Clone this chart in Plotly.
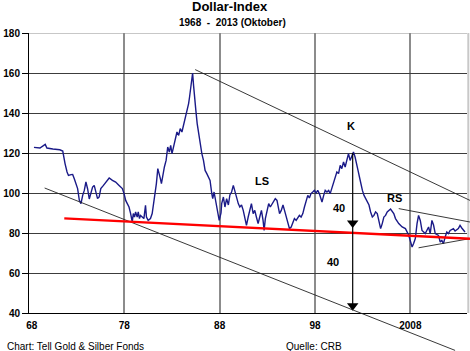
import plotly.graph_objects as go

# ---- data ----
years = [1968.52, 1969.15, 1969.70, 1969.88, 1970.50, 1971.23, 1971.54, 1971.61, 1971.78, 1971.99,
         1972.14, 1972.41, 1972.58, 1972.76, 1973.10, 1973.28, 1973.45, 1973.63, 1973.80, 1973.97,
         1974.15, 1974.32, 1974.49, 1974.67, 1974.84, 1975.01, 1975.19, 1975.36, 1975.53, 1975.81,
         1976.05, 1976.41, 1976.75, 1977.09, 1977.45, 1977.79, 1977.97, 1978.14, 1978.31, 1978.49,
         1978.66, 1978.83, 1978.94, 1979.07, 1979.18, 1979.35, 1979.46, 1979.59, 1979.70, 1979.88,
         1980.05, 1980.22, 1980.32, 1980.50, 1980.74, 1980.92, 1981.09, 1981.26, 1981.36, 1981.51,
         1981.61, 1981.78, 1981.89, 1982.03, 1982.20, 1982.38, 1982.55, 1982.72, 1982.86, 1983.00,
         1983.18, 1983.34, 1983.52, 1983.70, 1983.86, 1984.04, 1984.22, 1984.39, 1984.56, 1984.74,
         1984.84, 1984.98, 1985.08, 1985.16, 1985.26, 1985.36, 1985.50, 1985.64, 1985.78, 1985.95,
         1986.13, 1986.30, 1986.47, 1986.65, 1986.82, 1986.99, 1987.17, 1987.27, 1987.41, 1987.58,
         1987.76, 1987.95, 1988.14, 1988.21, 1988.39, 1988.55, 1988.73, 1988.91, 1989.07, 1989.25,
         1989.43, 1989.59, 1989.77, 1989.95, 1990.11, 1990.29, 1990.47, 1990.64, 1990.81, 1990.99,
         1991.16, 1991.33, 1991.51, 1991.68, 1991.85, 1992.03, 1992.20, 1992.38, 1992.55, 1992.66,
         1992.79, 1992.97, 1993.14, 1993.31, 1993.49, 1993.66, 1993.83, 1994.01, 1994.11, 1994.28,
         1994.46, 1994.64, 1994.80, 1994.98, 1995.16, 1995.32, 1995.50, 1995.68, 1995.84, 1996.02,
         1996.20, 1996.36, 1996.54, 1996.72, 1996.89, 1997.06, 1997.24, 1997.41, 1997.58, 1997.76,
         1997.93, 1998.11, 1998.28, 1998.45, 1998.63, 1998.73, 1998.91, 1999.07, 1999.25, 1999.43,
         1999.59, 1999.77, 1999.95, 2000.11, 2000.29, 2000.47, 2000.64, 2000.81, 2000.99, 2001.16,
         2001.33, 2001.51, 2001.68, 2001.85, 2002.03, 2002.20, 2002.38, 2002.51, 2002.66, 2002.79,
         2002.97, 2003.14, 2003.31, 2003.49, 2003.66, 2003.83, 2004.01, 2004.18, 2004.35, 2004.53,
         2004.70, 2004.88, 2005.05, 2005.22, 2005.40, 2005.57, 2005.92, 2006.26, 2006.44, 2006.78,
         2007.14, 2007.48, 2007.82, 2008.00, 2008.18, 2008.34, 2008.52, 2008.70, 2008.86, 2009.04,
         2009.22, 2009.56, 2009.74, 2009.91, 2010.08, 2010.26, 2010.43, 2010.61, 2010.95, 2011.13,
         2011.30, 2011.47, 2011.65, 2011.82, 2011.99, 2012.17, 2012.51, 2012.69, 2013.03, 2013.21,
         2013.39, 2013.55, 2013.73]
dollar_index = [122.8, 122.5, 124.3, 122.5, 122.0, 121.6, 121.0, 119.0, 114.7, 110.5,
                108.8, 109.2, 109.3, 107.0, 102.2, 96.3, 94.7, 98.8, 101.3, 105.5,
                102.0, 97.0, 99.7, 103.0, 103.8, 99.7, 97.2, 98.0, 102.2, 103.8,
                105.5, 107.5, 106.3, 105.5, 103.8, 102.2, 99.7, 96.3, 94.7, 93.0,
                89.7, 85.5, 89.7, 88.0, 90.5, 88.0, 90.5, 87.2, 88.8, 88.0,
                87.2, 93.8, 88.0, 86.3, 87.2, 89.7, 94.7, 99.7, 104.7, 112.2,
                109.7, 107.2, 104.7, 109.7, 113.0, 116.3, 123.0, 120.5, 123.8, 119.7,
                123.0, 126.3, 130.5, 128.8, 132.2, 130.5, 133.8, 137.2, 140.5, 144.7,
                148.0, 153.0, 156.3, 160.0, 153.8, 149.7, 141.3, 134.7, 129.7, 125.5,
                119.7, 116.3, 111.3, 109.7, 108.0, 106.3, 99.7, 97.2, 100.5, 96.0,
                92.0, 86.3, 90.0, 94.7, 98.0, 93.0, 97.2, 94.0, 99.0, 100.5,
                103.8, 100.5, 98.0, 94.7, 93.0, 94.0, 91.3, 87.2, 83.8, 88.0,
                91.3, 94.7, 89.7, 91.3, 88.0, 84.7, 88.0, 91.3, 86.3, 81.3,
                87.2, 91.3, 94.7, 93.0, 94.7, 95.5, 97.2, 96.3, 93.0, 89.7,
                91.3, 94.0, 91.3, 88.0, 84.7, 82.2, 83.0, 85.5, 87.2, 86.3,
                88.0, 88.8, 88.0, 89.7, 93.0, 95.5, 98.8, 97.5, 99.7, 100.5,
                101.3, 100.0, 101.3, 99.7, 97.2, 95.5, 98.8, 101.3, 100.5, 101.3,
                99.7, 102.2, 104.7, 108.0, 110.5, 109.7, 113.8, 112.2, 115.5, 113.0,
                117.2, 119.7, 116.3, 118.8, 120.5, 118.0, 114.7, 111.3, 108.0, 104.7,
                101.3, 98.8, 97.2, 96.3, 94.0, 90.5, 88.0, 88.8, 90.5, 89.7,
                86.3, 82.2, 84.7, 88.0, 88.8, 90.5, 92.0, 89.7, 87.2, 84.7,
                83.0, 82.2, 79.0, 75.5, 73.0, 74.7, 77.2, 84.7, 88.8, 86.3,
                81.3, 79.7, 81.3, 83.0, 79.7, 86.3, 84.0, 79.7, 78.8, 75.5,
                76.3, 74.7, 78.0, 80.5, 79.7, 81.3, 82.2, 81.0, 82.2, 83.8,
                82.5, 81.3, 80.5]

tick_years = [1968, 1978, 1988, 1998, 2008]
tick_labels = ["\u00a0\u00a0<b>68</b>", "<b>78</b>", "<b>88</b>", "<b>98</b>", "<b>2008</b>"]
y_ticks = [40, 60, 80, 100, 120, 140, 160, 180]
y_tick_labels = ["<b>%d</b>" % v for v in y_ticks]

# drawn trend lines (year, value) endpoints
red_support = [(1971.7, 87.3), (2014.25, 77.1)]
lower_channel = [(1969.64, 102.5), (2012.69, 21.3)]
upper_channel = [(1985.43, 161.7), (2014.25, 96.3)]
rs_upper = [(2006.78, 92.2), (2014.25, 85.5)]
rs_lower = [(2008.86, 72.6), (2014.25, 77.2)]
target_year = 2001.95
target_top, target_mid, target_bottom = 120.0, 80.0, 40.0

labels = [("K", 2001.75, 133.4), ("LS", 1992.4, 105.9), ("40", 2000.5, 92.3),
          ("RS", 2006.33, 97.4), ("40", 1999.9, 65.4)]

X0, X1 = 1968.0, 2013.94
Y0, Y1 = 40.0, 180.0
FONT = "Liberation Sans, Arial"


def to_paper(yr, v):
    return (yr - X0) / (X1 - X0), (v - Y0) / (Y1 - Y0)


fig = go.Figure()
fig.add_trace(go.Scatter(x=years, y=dollar_index, mode="lines",
                         line=dict(color="#1a1a88", width=1.4), hoverinfo="skip"))
# arrow heads
fig.add_trace(go.Scatter(x=[target_year, target_year], y=[85.0, 43.6], mode="markers",
                         marker=dict(symbol="triangle-down", size=10, color="black"),
                         hoverinfo="skip", cliponaxis=False))

shapes = []
shapes.append(dict(type="line", xref="paper", yref="y", x0=0, x1=1, y0=180, y1=180,
                   line=dict(color="#b4b4b4", width=1.5), layer="below"))
shapes.append(dict(type="line", xref="paper", yref="paper", x0=1.003, x1=1.003, y0=0, y1=1,
                   line=dict(color="#c8c8c8", width=2), layer="below"))


def seg(pts, color, width):
    (xa, ya), (xb, yb) = pts
    pa = to_paper(xa, ya)
    pb = to_paper(xb, yb)
    return dict(type="line", xref="paper", yref="paper", x0=pa[0], y0=pa[1], x1=pb[0], y1=pb[1],
                line=dict(color=color, width=width))


shapes.append(seg(lower_channel, "#222222", 0.9))
shapes.append(seg(upper_channel, "#222222", 0.9))
shapes.append(seg(rs_upper, "#222222", 0.9))
shapes.append(seg(rs_lower, "#222222", 0.9))
shapes.append(seg(red_support, "#ff0000", 2.4))
shapes.append(dict(type="line", xref="x", yref="y", x0=target_year, x1=target_year,
                   y0=target_top, y1=target_bottom + 2, line=dict(color="black", width=1.2)))

annotations = []
for txt, xv, yv in labels:
    annotations.append(dict(x=xv, y=yv, xref="x", yref="y", text="<b>%s</b>" % txt, showarrow=False,
                            font=dict(family=FONT, size=11, color="black")))
annotations.append(dict(x=0.46, y=1.093, xref="paper", yref="paper", text="<b>Dollar-Index</b>",
                        showarrow=False, xanchor="center", yanchor="middle",
                        font=dict(family=FONT, size=13, color="black")))
annotations.append(dict(x=0.465, y=1.0375, xref="paper", yref="paper",
                        text="<b>1968\u00a0\u00a0-\u00a0\u00a02013 (Oktober)</b>",
                        showarrow=False, xanchor="center", yanchor="middle",
                        font=dict(family=FONT, size=10, color="black")))
annotations.append(dict(x=-0.0544, y=-0.1196, xref="paper", yref="paper",
                        text="Chart: Tell Gold & Silber Fonds", showarrow=False,
                        xanchor="left", yanchor="middle",
                        font=dict(family=FONT, size=10, color="black")))
annotations.append(dict(x=0.583, y=-0.1196, xref="paper", yref="paper",
                        text="Quelle: CRB", showarrow=False, xanchor="left", yanchor="middle",
                        font=dict(family=FONT, size=10, color="black")))

fig.update_layout(
    width=470, height=351, autosize=False,
    margin=dict(l=26, r=3, t=33, b=38, pad=0),
    paper_bgcolor="white", plot_bgcolor="white",
    showlegend=False,
    shapes=shapes, annotations=annotations,
    font=dict(family=FONT, size=10, color="black"),
)
fig.update_xaxes(range=[X0, X1], tickmode="array", tickvals=tick_years, ticktext=tick_labels,
                 showgrid=True, gridcolor="#8c8c8c", gridwidth=2,
                 showline=True, linecolor="black", linewidth=1,
                 ticks="", ticklabelstandoff=3, zeroline=False,
                 tickfont=dict(family=FONT, size=10, color="black"))
fig.update_yaxes(range=[Y0, Y1], tickmode="array", tickvals=y_ticks, ticktext=y_tick_labels,
                 showgrid=True, gridcolor="#3c3c3c", gridwidth=1,
                 showline=True, linecolor="black", linewidth=1,
                 ticks="outside", ticklen=6, tickcolor="black", zeroline=False,
                 tickfont=dict(family=FONT, size=10, color="black"))

fig.write_html("out.html")
